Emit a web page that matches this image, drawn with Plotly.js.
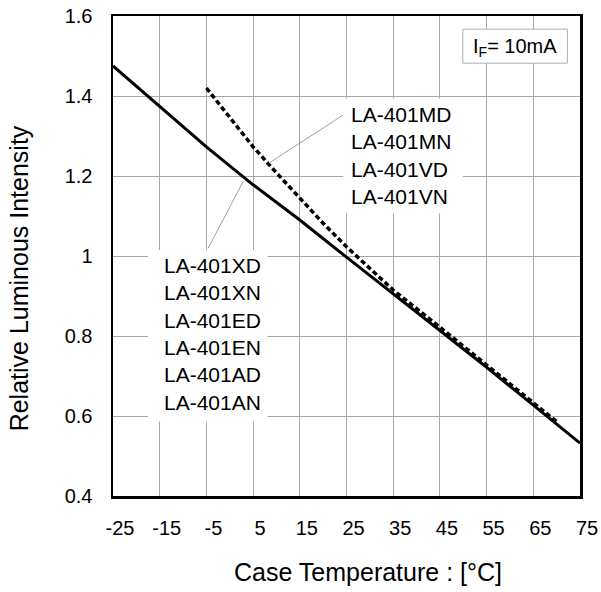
<!DOCTYPE html>
<html>
<head>
<meta charset="utf-8">
<script src="https://cdn.plot.ly/plotly-3.0.1.min.js"></script>
<style>html,body{margin:0;padding:0;background:#fff;}#chart{width:601px;height:592px;}</style>
</head>
<body>
<div id="chart"></div>
<script>
// Case temperature (°C)
var tempSolid = [-25, -15, -5, 5, 15, 25, 35, 45, 55, 65, 75];
// LA-401XD/XN/ED/EN/AD/AN relative luminous intensity
var intensitySolid = [1.475, 1.374, 1.273, 1.178, 1.09, 0.997, 0.905, 0.812, 0.722, 0.627, 0.532];
// LA-401MD/MN/VD/VN
var tempDashed = [-5, 0, 5, 10, 15, 20, 25, 35, 45, 55, 65, 70];
var intensityDashed = [1.42, 1.345, 1.273, 1.208, 1.145, 1.082, 1.023, 0.915, 0.822, 0.728, 0.632, 0.586];

var xTickVals = [-25, -15, -5, 5, 15, 25, 35, 45, 55, 65, 75];
var xTickText = ['-25', '-15', '-5', '5', '15', '25', '35', '45', '55', '65', '75'];
var yTickVals = [0.4, 0.6, 0.8, 1, 1.2, 1.4, 1.6];
var yTickText = ['0.4', '0.6', '0.8', '1', '1.2', '1.4', '1.6'];

var groupSolid = ['LA-401XD', 'LA-401XN', 'LA-401ED', 'LA-401EN', 'LA-401AD', 'LA-401AN'];
var groupDashed = ['LA-401MD', 'LA-401MN', 'LA-401VD', 'LA-401VN'];

var FONT = 'Liberation Sans, Arial, Helvetica, sans-serif';

var traces = [
  {x: tempSolid, y: intensitySolid, mode: 'lines', type: 'scatter',
   line: {color: '#000', width: 3}, name: groupSolid.join(', '), hoverinfo: 'x+y'},
  {x: tempDashed, y: intensityDashed, mode: 'lines', type: 'scatter',
   line: {color: '#000', width: 3.5, dash: '5px,3px'}, name: groupDashed.join(', '), hoverinfo: 'x+y'}
];

var layout = {
  width: 601, height: 592,
  margin: {l: 113.3, r: 21, t: 16, b: 95.5, pad: 0},
  paper_bgcolor: '#fff', plot_bgcolor: '#fff',
  showlegend: false,
  font: {family: FONT, color: '#000', size: 20},
  xaxis: {
    range: [-25, 75], tickmode: 'array', tickvals: xTickVals, ticktext: xTickText,
    showgrid: true, gridcolor: '#a8a8a8', gridwidth: 1,
    zeroline: false, showline: true, linecolor: '#000', linewidth: 2.5, mirror: true,
    ticks: '', tickfont: {size: 20, family: FONT}, ticklabelstandoff: 12, ticklabelshift: 7
  },
  yaxis: {
    range: [0.4, 1.6], tickmode: 'array', tickvals: yTickVals, ticktext: yTickText,
    showgrid: true, gridcolor: '#a8a8a8', gridwidth: 1,
    zeroline: false, showline: true, linecolor: '#000', linewidth: 2.5, mirror: true,
    ticks: '', tickfont: {size: 20, family: FONT}, ticklabelstandoff: 14
  },
  shapes: [
    // white label backgrounds
    {type: 'rect', xref: 'x', yref: 'y', x0: 24.3, x1: 49.9, y0: 1.107, y1: 1.394,
     fillcolor: '#fff', line: {width: 0}, layer: 'above'},
    {type: 'rect', xref: 'x', yref: 'y', x0: -17.5, x1: 8.1, y0: 0.586, y1: 1.015,
     fillcolor: '#fff', line: {width: 0}, layer: 'above'},
    // condition box
    {type: 'rect', xref: 'x', yref: 'y', x0: 49.9, x1: 72.3, y0: 1.482, y1: 1.567,
     fillcolor: '#fff', line: {color: '#b0b0b0', width: 1}, layer: 'above'},
    // leader lines
    {type: 'line', xref: 'x', yref: 'y', x0: 24.3, y0: 1.3525, x1: 8.36, y1: 1.232,
     line: {color: '#a0a0a0', width: 1}, layer: 'above'},
    {type: 'line', xref: 'x', yref: 'y', x0: -4.64, y0: 1.019, x1: 2.86, y1: 1.186,
     line: {color: '#a0a0a0', width: 1}, layer: 'above'}
  ],
  annotations: [
    {xref: 'x', yref: 'y', x: 25.7, y: 1.2525, xanchor: 'left', yanchor: 'middle', align: 'left',
     showarrow: false, borderpad: 0, text: groupDashed.join('<br>'), font: {size: 21, family: FONT}},
    {xref: 'x', yref: 'y', x: -14.4, y: 0.8056, xanchor: 'left', yanchor: 'middle', align: 'left',
     showarrow: false, borderpad: 0, text: groupSolid.join('<br>'), font: {size: 21, family: FONT}},
    {xref: 'x', yref: 'y', x: 61.1, y: 1.522, xanchor: 'center', yanchor: 'middle',
     showarrow: false, borderpad: 0, text: 'I<sub>F</sub>= 10mA', font: {size: 20, family: FONT}},
    {xref: 'paper', yref: 'paper', x: 0.5457, y: -0.158, xanchor: 'center', yanchor: 'middle',
     showarrow: false, text: 'Case Temperature : [°C]', font: {size: 25, family: FONT}},
    {xref: 'paper', yref: 'paper', x: -0.202, y: 0.4527, xanchor: 'center', yanchor: 'middle',
     textangle: -90, showarrow: false, text: 'Relative Luminous Intensity', font: {size: 25, family: FONT}}
  ]
};

Plotly.newPlot('chart', traces, layout, {displayModeBar: false, staticPlot: true});
</script>
</body>
</html>
